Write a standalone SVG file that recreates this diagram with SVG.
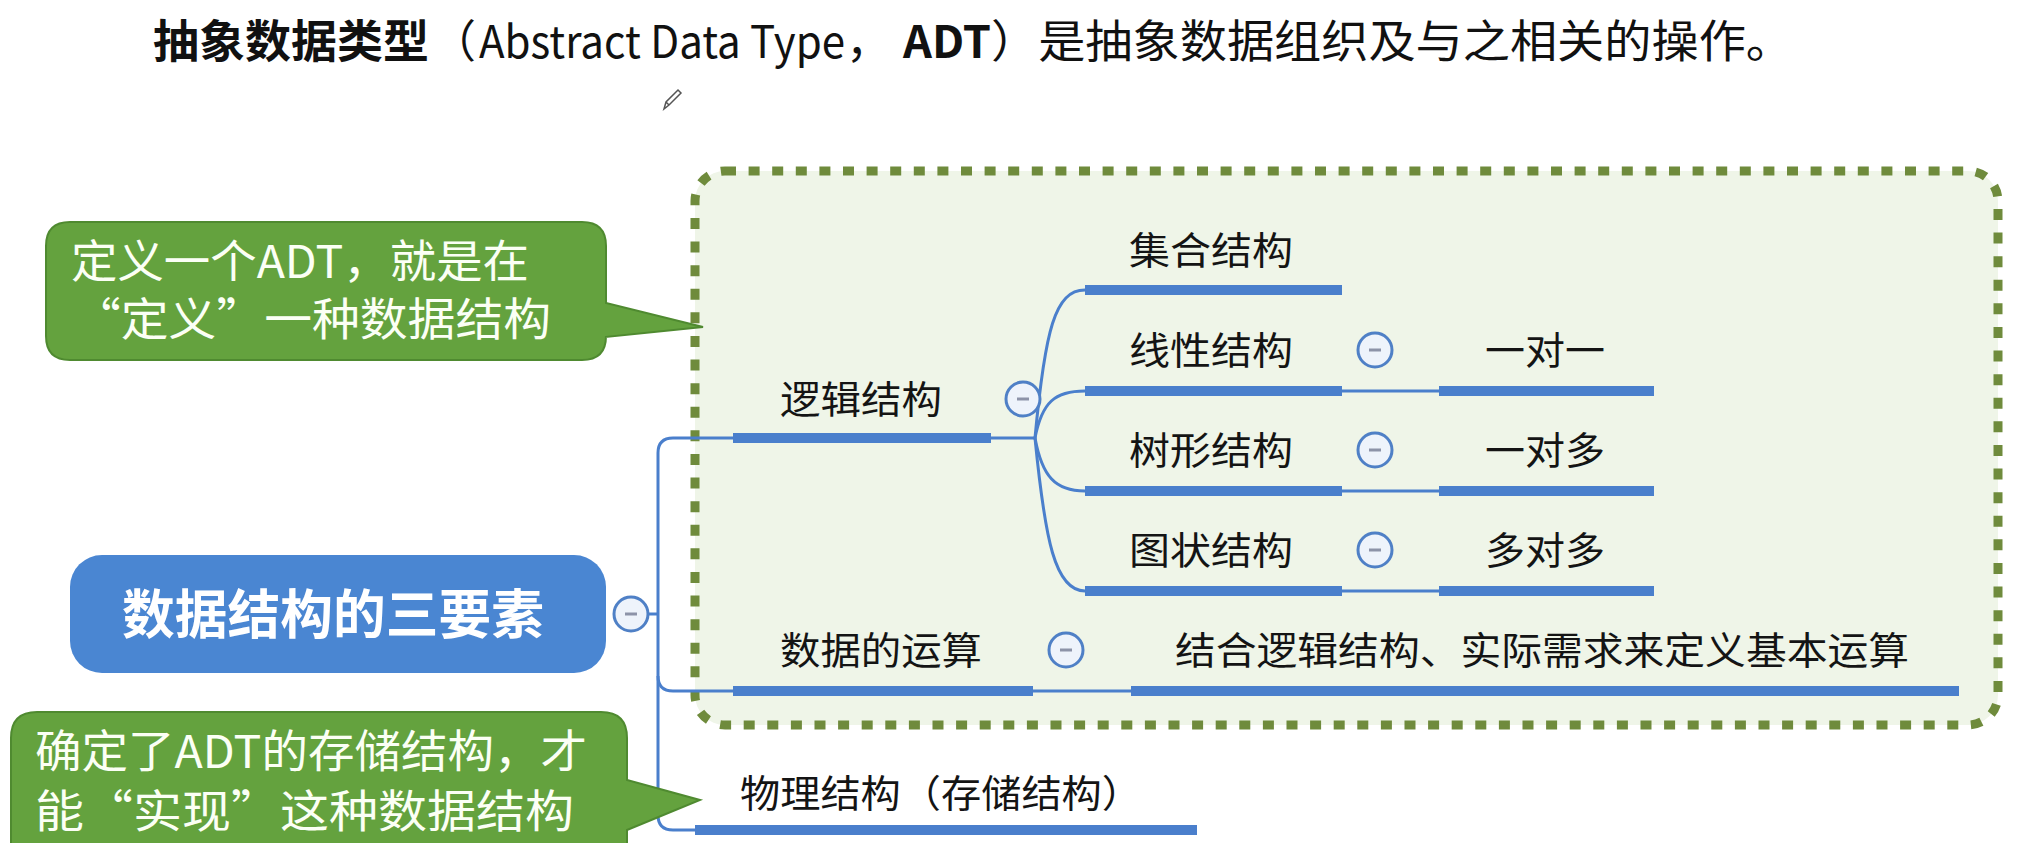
<svg xmlns="http://www.w3.org/2000/svg" width="2031" height="843" viewBox="0 0 2031 843">
<style>
text{font-family:"Noto Sans CJK SC","Noto Sans CJK TC",sans-serif}
.title{font-size:45px;fill:#111}
.b{font-weight:bold}
.lbl{font-size:38px;fill:#141414}
.call{font-size:45px;fill:#fbfff5}
.ul{stroke:#4a7fcc;stroke-width:10}
.thin{stroke:#4a7fcc;stroke-width:3;fill:none}
.tog circle{fill:#eef3fb;stroke:#4f80c6;stroke-width:3}
.tog line{stroke:#8d93a8;stroke-width:3}
.bubble{fill:#64a23e;stroke:#4f8a30;stroke-width:2}
</style>

<g id="title">
<text class="title" y="58"><tspan class="b" x="153" textLength="276" lengthAdjust="spacingAndGlyphs">抽象数据类型</tspan><tspan x="431">（</tspan><tspan x="479" textLength="366" lengthAdjust="spacingAndGlyphs">Abstract Data Type</tspan><tspan x="846">，</tspan><tspan class="b" x="903" textLength="88" lengthAdjust="spacingAndGlyphs">ADT</tspan><tspan x="991" textLength="802" lengthAdjust="spacingAndGlyphs">）是抽象数据组织及与之相关的操作。</tspan></text>
</g>

<g id="cursor" fill="none" stroke="#555" stroke-width="1.5">
<path d="M664 109 L666 102 L678 90 L681 93 L669 105 Z M666 102 L669 105"/>
</g>

<g id="group-box">
<rect x="695" y="171" width="1303" height="554" rx="30" fill="#eff5e8" stroke="#6f8b3c" stroke-width="9" stroke-dasharray="11 12.6"/>
</g>

<g id="connectors">
<path class="thin" d="M649 614 H658"/>
<path class="thin" d="M733 438 H673 Q658 438 658 453 V815 Q658 830 673 830 H695"/>
<path class="thin" d="M658 676 Q658 691 673 691 H733"/>
<path class="thin" d="M991 438 H1035"/>
<path class="thin" d="M1035 438 C1045 330 1055 290 1085 290"/>
<path class="thin" d="M1035 438 C1042 402 1055 391 1085 391"/>
<path class="thin" d="M1035 438 C1042 476 1055 491 1085 491"/>
<path class="thin" d="M1035 438 C1045 540 1055 591 1085 591"/>
<path class="thin" d="M1342 391 H1439 M1342 491 H1439 M1342 591 H1439"/>
<path class="thin" d="M1033 691 H1131"/>
</g>

<g id="root">
<rect x="70" y="555" width="536" height="118" rx="32" fill="#4a86d2"/>
<text x="122" y="634" font-size="53" font-weight="bold" fill="#fff" textLength="422" lengthAdjust="spacingAndGlyphs">数据结构的三要素</text>
<g class="tog"><circle cx="631" cy="614" r="17"/><line x1="625" y1="614" x2="637" y2="614"/></g>
</g>

<g id="logic">
<line class="ul" x1="733" y1="438" x2="991" y2="438"/>
<text class="lbl" x="780" y="413" textLength="162" lengthAdjust="spacingAndGlyphs">逻辑结构</text>
<g class="tog"><circle cx="1023" cy="399" r="17"/><line x1="1017" y1="399" x2="1029" y2="399"/></g>
</g>

<g id="set">
<line class="ul" x1="1085" y1="290" x2="1342" y2="290"/>
<text class="lbl" x="1129" y="264" textLength="164" lengthAdjust="spacingAndGlyphs">集合结构</text>
</g>

<g id="linear">
<line class="ul" x1="1085" y1="391" x2="1342" y2="391"/>
<text class="lbl" x="1129" y="364" textLength="164" lengthAdjust="spacingAndGlyphs">线性结构</text>
<g class="tog"><circle cx="1375" cy="350" r="17"/><line x1="1369" y1="350" x2="1381" y2="350"/></g>
</g>
<g id="one-one">
<line class="ul" x1="1439" y1="391" x2="1654" y2="391"/>
<text class="lbl" x="1485" y="364" textLength="120" lengthAdjust="spacingAndGlyphs">一对一</text>
</g>

<g id="tree">
<line class="ul" x1="1085" y1="491" x2="1342" y2="491"/>
<text class="lbl" x="1129" y="464" textLength="164" lengthAdjust="spacingAndGlyphs">树形结构</text>
<g class="tog"><circle cx="1375" cy="450" r="17"/><line x1="1369" y1="450" x2="1381" y2="450"/></g>
</g>
<g id="one-many">
<line class="ul" x1="1439" y1="491" x2="1654" y2="491"/>
<text class="lbl" x="1485" y="464" textLength="120" lengthAdjust="spacingAndGlyphs">一对多</text>
</g>

<g id="graph">
<line class="ul" x1="1085" y1="591" x2="1342" y2="591"/>
<text class="lbl" x="1129" y="564" textLength="164" lengthAdjust="spacingAndGlyphs">图状结构</text>
<g class="tog"><circle cx="1375" cy="550" r="17"/><line x1="1369" y1="550" x2="1381" y2="550"/></g>
</g>
<g id="many-many">
<line class="ul" x1="1439" y1="591" x2="1654" y2="591"/>
<text class="lbl" x="1485" y="564" textLength="120" lengthAdjust="spacingAndGlyphs">多对多</text>
</g>

<g id="ops">
<line class="ul" x1="733" y1="691" x2="1033" y2="691"/>
<text class="lbl" x="780" y="664" textLength="202" lengthAdjust="spacingAndGlyphs">数据的运算</text>
<g class="tog"><circle cx="1066" cy="650" r="17"/><line x1="1060" y1="650" x2="1072" y2="650"/></g>
</g>
<g id="ops-detail">
<line class="ul" x1="1131" y1="691" x2="1959" y2="691"/>
<text class="lbl" x="1175" y="664" textLength="734" lengthAdjust="spacingAndGlyphs">结合逻辑结构、实际需求来定义基本运算</text>
</g>

<g id="physical">
<line class="ul" x1="695" y1="830" x2="1197" y2="830"/>
<text class="lbl" x="740" y="807" textLength="402" lengthAdjust="spacingAndGlyphs">物理结构（存储结构）</text>
</g>

<g id="callout-define">
<path class="bubble" d="M70 222 H582 Q606 222 606 246 V303 L703 327 L606 337 V336 Q606 360 582 360 H70 Q46 360 46 336 V246 Q46 222 70 222 Z"/>
<text class="call"><tspan x="71" y="278" textLength="458" lengthAdjust="spacingAndGlyphs">定义一个ADT，就是在</tspan><tspan x="73" y="336" textLength="478" lengthAdjust="spacingAndGlyphs">“定义”一种数据结构</tspan></text>
</g>

<g id="callout-impl">
<path class="bubble" d="M37 712 H601 Q627 712 627 738 V780 L700 800 L627 830 V850 Q627 876 601 876 H37 Q11 876 11 850 V738 Q11 712 37 712 Z"/>
<text class="call"><tspan x="35" y="768" textLength="552" lengthAdjust="spacingAndGlyphs">确定了ADT的存储结构，才</tspan><tspan x="35" y="828" textLength="539" lengthAdjust="spacingAndGlyphs">能“实现”这种数据结构</tspan></text>
</g>
</svg>
